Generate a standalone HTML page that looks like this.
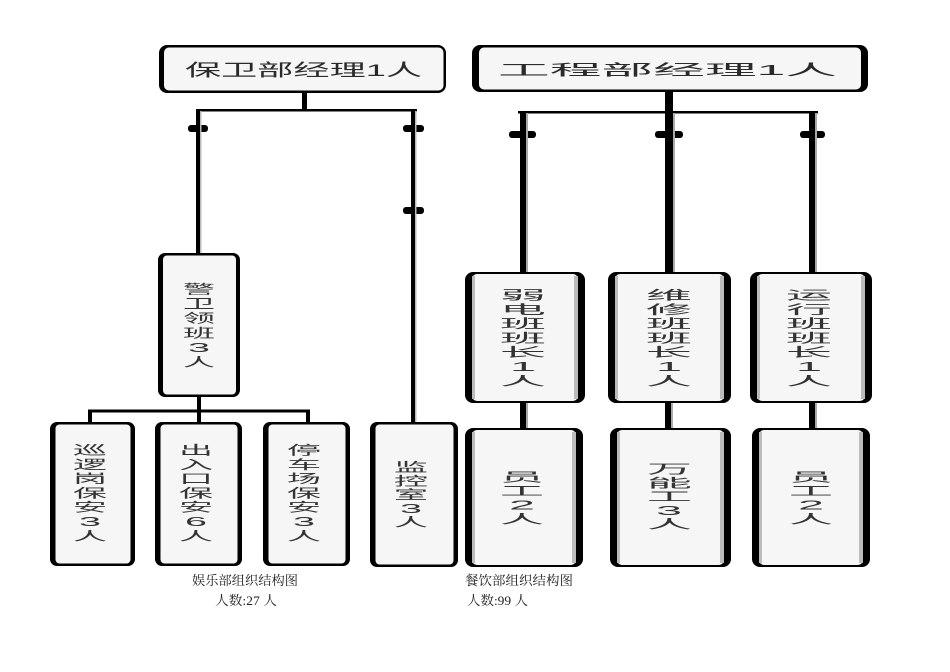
<!DOCTYPE html>
<html>
<head>
<meta charset="utf-8">
<style>
html,body{margin:0;padding:0;background:#fff;}
svg{display:block;}
.t{font-family:"Liberation Sans","Noto Sans CJK SC",sans-serif;font-size:12.5px;fill:#333;}
.h{font-family:"Liberation Sans","Noto Sans CJK SC",sans-serif;fill:#2a2a2a;}
.c{font-family:"Liberation Serif","Noto Serif CJK SC",serif;font-size:13px;fill:#222;}
</style>
</head>
<body>
<svg width="950" height="672" viewBox="0 0 950 672" xmlns="http://www.w3.org/2000/svg">
<rect width="950" height="672" fill="#fff"/>

<!-- ============ LEFT CONNECTORS ============ -->
<g fill="#000">
  <rect x="302" y="92" width="5" height="19"/>
  <rect x="196" y="109" width="221" height="2.5"/>
  <rect x="196" y="109" width="4" height="146"/>
  <rect x="411" y="109" width="4" height="315"/>
  <rect x="188" y="125" width="20" height="7" rx="3"/>
  <rect x="403" y="125" width="21" height="7" rx="3"/>
  <rect x="403" y="207" width="21" height="7" rx="3"/>
  <!-- lower tree -->
  <rect x="197" y="396" width="4" height="16"/>
  <rect x="88" y="409.5" width="222" height="3"/>
  <rect x="88" y="409.5" width="4" height="14"/>
  <rect x="197" y="409.5" width="4" height="14"/>
  <rect x="306" y="409.5" width="4" height="14"/>
</g>
<rect x="200" y="111" width="1.5" height="142" fill="#bbb"/>
<rect x="415" y="111" width="1.5" height="311" fill="#bbb"/>

<!-- ============ RIGHT CONNECTORS ============ -->
<g fill="#000">
  <rect x="665" y="90" width="8" height="23"/>
  <rect x="518" y="111" width="300" height="2.5"/>
  <rect x="520" y="111" width="6" height="162"/>
  <rect x="665" y="111" width="8" height="162"/>
  <rect x="809" y="111" width="6" height="162"/>
  <rect x="509" y="131" width="27" height="7" rx="3"/>
  <rect x="655" y="131" width="28" height="7" rx="3"/>
  <rect x="800" y="131" width="25" height="7" rx="3"/>
  <!-- mid to bottom -->
  <rect x="520" y="402" width="6" height="27"/>
  <rect x="665" y="402" width="6" height="27"/>
  <rect x="809" y="402" width="6" height="27"/>
</g>
<g fill="#aaa">
  <rect x="526" y="113" width="2" height="159"/>
  <rect x="673" y="113" width="2" height="159"/>
  <rect x="815" y="113" width="2" height="159"/>
  <rect x="526" y="403" width="2" height="25"/>
  <rect x="671" y="403" width="2" height="25"/>
  <rect x="815" y="403" width="2" height="25"/>
</g>

<!-- ============ LEFT BOXES ============ -->
<rect x="159" y="45" width="287" height="48" rx="8" fill="#000"/>
<rect x="164" y="47.5" width="279.5" height="43" rx="5" fill="#f6f6f6"/>
<rect x="158" y="253" width="82" height="144" rx="7" fill="#000"/>
<rect x="163" y="255.5" width="73" height="139" rx="4" fill="#f6f6f6"/>
<rect x="50" y="422" width="85" height="144" rx="7" fill="#000"/>
<rect x="55.5" y="424.5" width="75" height="139" rx="4" fill="#f6f6f6"/>
<rect x="155" y="422" width="87" height="144" rx="7" fill="#000"/>
<rect x="160.5" y="424.5" width="77" height="139" rx="4" fill="#f6f6f6"/>
<rect x="263" y="422" width="87" height="144" rx="7" fill="#000"/>
<rect x="268.5" y="424.5" width="77" height="139" rx="4" fill="#f6f6f6"/>
<rect x="370" y="422" width="88" height="145" rx="7" fill="#000"/>
<rect x="375.5" y="424.5" width="78" height="140" rx="4" fill="#f6f6f6"/>

<!-- ============ RIGHT BOXES ============ -->
<rect x="472" y="45" width="396" height="47" rx="8" fill="#000"/>
<rect x="479" y="47.5" width="382" height="42" rx="5" fill="#f6f6f6"/>

<rect x="465" y="272" width="120" height="131" rx="8" fill="#000"/>
<rect x="472" y="274" width="106" height="127" rx="5" fill="#f6f6f6"/>
<rect x="472" y="276" width="3" height="123" fill="#bbb"/>
<rect x="574" y="276" width="4" height="123" fill="#bbb"/>

<rect x="608" y="272" width="123" height="131" rx="8" fill="#000"/>
<rect x="615" y="274" width="109" height="127" rx="5" fill="#f6f6f6"/>
<rect x="615" y="276" width="3" height="123" fill="#bbb"/>
<rect x="720" y="276" width="4" height="123" fill="#bbb"/>

<rect x="750" y="272" width="122" height="131" rx="8" fill="#000"/>
<rect x="757" y="274" width="108" height="127" rx="5" fill="#f6f6f6"/>
<rect x="757" y="276" width="3" height="123" fill="#bbb"/>
<rect x="861" y="276" width="4" height="123" fill="#bbb"/>

<rect x="465" y="428" width="118" height="139" rx="8" fill="#000"/>
<rect x="472" y="430" width="104" height="135" rx="5" fill="#f6f6f6"/>
<rect x="472" y="432" width="3" height="131" fill="#bbb"/>
<rect x="572" y="432" width="4" height="131" fill="#bbb"/>

<rect x="610" y="428" width="121" height="139" rx="8" fill="#000"/>
<rect x="617" y="430" width="107" height="135" rx="5" fill="#f6f6f6"/>
<rect x="617" y="432" width="3" height="131" fill="#bbb"/>
<rect x="720" y="432" width="4" height="131" fill="#bbb"/>

<rect x="752" y="428" width="118" height="139" rx="8" fill="#000"/>
<rect x="759" y="430" width="104" height="135" rx="5" fill="#f6f6f6"/>
<rect x="759" y="432" width="3" height="131" fill="#bbb"/>
<rect x="859" y="432" width="4" height="131" fill="#bbb"/>

<!-- ============ TOP TEXT ============ -->
<text class="h" x="185" y="76" font-size="17" textLength="237" lengthAdjust="spacingAndGlyphs">保卫部经理1人</text>
<text class="h" x="498" y="75" font-size="15" textLength="339" lengthAdjust="spacingAndGlyphs">工程部经理1人</text>

<!-- ============ VERTICAL TEXT LEFT ============ -->
<g class="t">
<text x="183" y="293.5" textLength="32" lengthAdjust="spacingAndGlyphs">警</text>
<text x="183" y="308.1" textLength="32" lengthAdjust="spacingAndGlyphs">卫</text>
<text x="183" y="322.7" textLength="32" lengthAdjust="spacingAndGlyphs">领</text>
<text x="183" y="337.3" textLength="32" lengthAdjust="spacingAndGlyphs">班</text>
<text x="188" y="351.9" textLength="22" lengthAdjust="spacingAndGlyphs">3</text>
<text x="183" y="366.5" textLength="32" lengthAdjust="spacingAndGlyphs">人</text>
</g>
<g class="t">
<text x="73" y="454.5" textLength="34" lengthAdjust="spacingAndGlyphs">巡</text>
<text x="73" y="468.8" textLength="34" lengthAdjust="spacingAndGlyphs">逻</text>
<text x="73" y="483.1" textLength="34" lengthAdjust="spacingAndGlyphs">岗</text>
<text x="73" y="497.4" textLength="34" lengthAdjust="spacingAndGlyphs">保</text>
<text x="73" y="511.7" textLength="34" lengthAdjust="spacingAndGlyphs">安</text>
<text x="79" y="526" textLength="22" lengthAdjust="spacingAndGlyphs">3</text>
<text x="73" y="540.3" textLength="34" lengthAdjust="spacingAndGlyphs">人</text>
</g>
<g class="t">
<text x="179" y="454.5" textLength="34" lengthAdjust="spacingAndGlyphs">出</text>
<text x="179" y="468.8" textLength="34" lengthAdjust="spacingAndGlyphs">入</text>
<text x="179" y="483.1" textLength="34" lengthAdjust="spacingAndGlyphs">口</text>
<text x="179" y="497.4" textLength="34" lengthAdjust="spacingAndGlyphs">保</text>
<text x="179" y="511.7" textLength="34" lengthAdjust="spacingAndGlyphs">安</text>
<text x="185" y="526" textLength="22" lengthAdjust="spacingAndGlyphs">6</text>
<text x="179" y="540.3" textLength="34" lengthAdjust="spacingAndGlyphs">人</text>
</g>
<g class="t">
<text x="287" y="454.5" textLength="34" lengthAdjust="spacingAndGlyphs">停</text>
<text x="287" y="468.8" textLength="34" lengthAdjust="spacingAndGlyphs">车</text>
<text x="287" y="483.1" textLength="34" lengthAdjust="spacingAndGlyphs">场</text>
<text x="287" y="497.4" textLength="34" lengthAdjust="spacingAndGlyphs">保</text>
<text x="287" y="511.7" textLength="34" lengthAdjust="spacingAndGlyphs">安</text>
<text x="293" y="526" textLength="22" lengthAdjust="spacingAndGlyphs">3</text>
<text x="287" y="540.3" textLength="34" lengthAdjust="spacingAndGlyphs">人</text>
</g>
<g class="t">
<text x="394" y="471.5" textLength="34" lengthAdjust="spacingAndGlyphs">监</text>
<text x="394" y="485.25" textLength="34" lengthAdjust="spacingAndGlyphs">控</text>
<text x="394" y="499" textLength="34" lengthAdjust="spacingAndGlyphs">室</text>
<text x="400" y="512.75" textLength="22" lengthAdjust="spacingAndGlyphs">3</text>
<text x="394" y="526.5" textLength="34" lengthAdjust="spacingAndGlyphs">人</text>
</g>

<!-- ============ VERTICAL TEXT RIGHT ============ -->
<g class="t">
<text x="500" y="299.5" textLength="46" lengthAdjust="spacingAndGlyphs">弱</text>
<text x="500" y="313.8" textLength="46" lengthAdjust="spacingAndGlyphs">电</text>
<text x="500" y="328.1" textLength="46" lengthAdjust="spacingAndGlyphs">班</text>
<text x="500" y="342.4" textLength="46" lengthAdjust="spacingAndGlyphs">班</text>
<text x="500" y="356.7" textLength="46" lengthAdjust="spacingAndGlyphs">长</text>
<text x="510" y="371" textLength="26" lengthAdjust="spacingAndGlyphs">1</text>
<text x="500" y="385.3" textLength="46" lengthAdjust="spacingAndGlyphs">人</text>
</g>
<g class="t">
<text x="646" y="299.5" textLength="46" lengthAdjust="spacingAndGlyphs">维</text>
<text x="646" y="313.8" textLength="46" lengthAdjust="spacingAndGlyphs">修</text>
<text x="646" y="328.1" textLength="46" lengthAdjust="spacingAndGlyphs">班</text>
<text x="646" y="342.4" textLength="46" lengthAdjust="spacingAndGlyphs">班</text>
<text x="646" y="356.7" textLength="46" lengthAdjust="spacingAndGlyphs">长</text>
<text x="656" y="371" textLength="26" lengthAdjust="spacingAndGlyphs">1</text>
<text x="646" y="385.3" textLength="46" lengthAdjust="spacingAndGlyphs">人</text>
</g>
<g class="t">
<text x="786" y="299.5" textLength="46" lengthAdjust="spacingAndGlyphs">运</text>
<text x="786" y="313.8" textLength="46" lengthAdjust="spacingAndGlyphs">行</text>
<text x="786" y="328.1" textLength="46" lengthAdjust="spacingAndGlyphs">班</text>
<text x="786" y="342.4" textLength="46" lengthAdjust="spacingAndGlyphs">班</text>
<text x="786" y="356.7" textLength="46" lengthAdjust="spacingAndGlyphs">长</text>
<text x="796" y="371" textLength="26" lengthAdjust="spacingAndGlyphs">1</text>
<text x="786" y="385.3" textLength="46" lengthAdjust="spacingAndGlyphs">人</text>
</g>
<g class="t">
<text x="500" y="481.5" textLength="44" lengthAdjust="spacingAndGlyphs">员</text>
<text x="500" y="495.5" textLength="44" lengthAdjust="spacingAndGlyphs">工</text>
<text x="509" y="509.5" textLength="26" lengthAdjust="spacingAndGlyphs">2</text>
<text x="500" y="523.5" textLength="44" lengthAdjust="spacingAndGlyphs">人</text>
</g>
<g class="t">
<text x="647" y="473.5" textLength="45" lengthAdjust="spacingAndGlyphs">万</text>
<text x="647" y="487.25" textLength="45" lengthAdjust="spacingAndGlyphs">能</text>
<text x="647" y="501" textLength="45" lengthAdjust="spacingAndGlyphs">工</text>
<text x="656" y="514.75" textLength="26" lengthAdjust="spacingAndGlyphs">3</text>
<text x="647" y="528.5" textLength="45" lengthAdjust="spacingAndGlyphs">人</text>
</g>
<g class="t">
<text x="789" y="481.5" textLength="44" lengthAdjust="spacingAndGlyphs">员</text>
<text x="789" y="495.5" textLength="44" lengthAdjust="spacingAndGlyphs">工</text>
<text x="798" y="509.5" textLength="26" lengthAdjust="spacingAndGlyphs">2</text>
<text x="789" y="523.5" textLength="44" lengthAdjust="spacingAndGlyphs">人</text>
</g>

<!-- ============ CAPTIONS ============ -->
<text class="c" x="192" y="585" textLength="106" lengthAdjust="spacingAndGlyphs">娱乐部组织结构图</text>
<text class="c" x="215" y="605" textLength="62" lengthAdjust="spacingAndGlyphs">人数:27 人</text>
<text class="c" x="465" y="585" textLength="108" lengthAdjust="spacingAndGlyphs">餐饮部组织结构图</text>
<text class="c" x="467" y="605" textLength="61" lengthAdjust="spacingAndGlyphs">人数:99 人</text>
</svg>
</body>
</html>
